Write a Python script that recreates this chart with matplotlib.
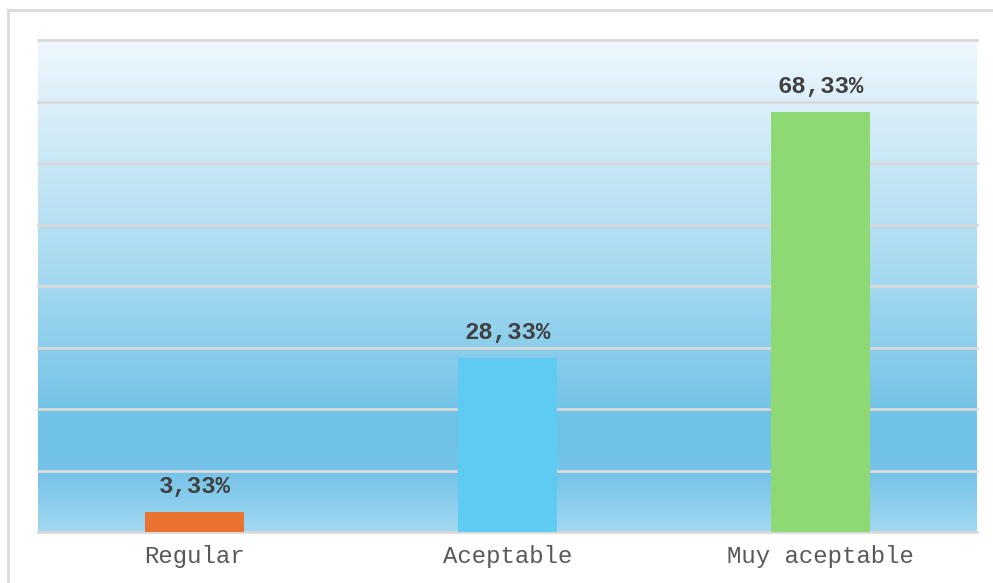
import numpy as np
import matplotlib.pyplot as plt
from matplotlib.colors import LinearSegmentedColormap
from matplotlib.patches import Rectangle

# Datos
categorias = ["Regular", "Aceptable", "Muy aceptable"]
porcentajes = [3.33, 28.33, 68.33]
colores = ["#ea7231", "#5ecbf3", "#8ed973"]

W, H = 993, 583
fig = plt.figure(figsize=(W / 100, H / 100), dpi=100)
fig.patch.set_facecolor("white")

# marco exterior gris claro
fig.patches.append(Rectangle((8 / W, -0.1), 1.2, 1 - 10 / H + 0.1,
                             transform=fig.transFigure, fill=False,
                             edgecolor="#dadada", linewidth=2))

ax = fig.add_axes([38 / W, (H - 532) / H, 939 / W, 492 / H])

# fondo degradado del area de trazado
grad = LinearSegmentedColormap.from_list("fondo", [
    (0.0, "#eff7fd"),
    (0.25, "#c8e7f6"),
    (0.5, "#a3d8f0"),
    (0.78, "#6fc1e6"),
    (0.88, "#74c3e8"),
    (1.0, "#a2d8f1"),
])
ax.imshow(np.linspace(1, 0, 256).reshape(-1, 1), cmap=grad.reversed(),
          extent=[0, 1, 0, 1], transform=ax.transAxes, aspect="auto",
          zorder=0, interpolation="bicubic")

x = np.arange(len(categorias))
ax.set_xlim(-0.5, len(categorias) - 0.5)
ax.set_ylim(0, 80)

for y in range(0, 81, 10):
    ax.axhline(y, color="#d9d9d9", linewidth=2, zorder=1, clip_on=False)

ax.bar(x, porcentajes, width=0.316, color=colores, zorder=2)

for xi, v in zip(x, porcentajes):
    ax.annotate(f"{v:.2f}%".replace(".", ","), (xi, v), xytext=(0, 13.5),
                textcoords="offset points", ha="center", va="baseline",
                family="Liberation Mono", fontweight="bold", fontsize=17.3,
                color="#404040", zorder=3)

ax.set_xticks(x)
ax.set_xticklabels(categorias, family="Liberation Mono", fontsize=17.3,
                   color="#595959")
ax.tick_params(axis="x", length=0, pad=9)
ax.set_yticks([])
for s in ax.spines.values():
    s.set_visible(False)

plt.savefig("out.png", dpi=100)
plt.close()
